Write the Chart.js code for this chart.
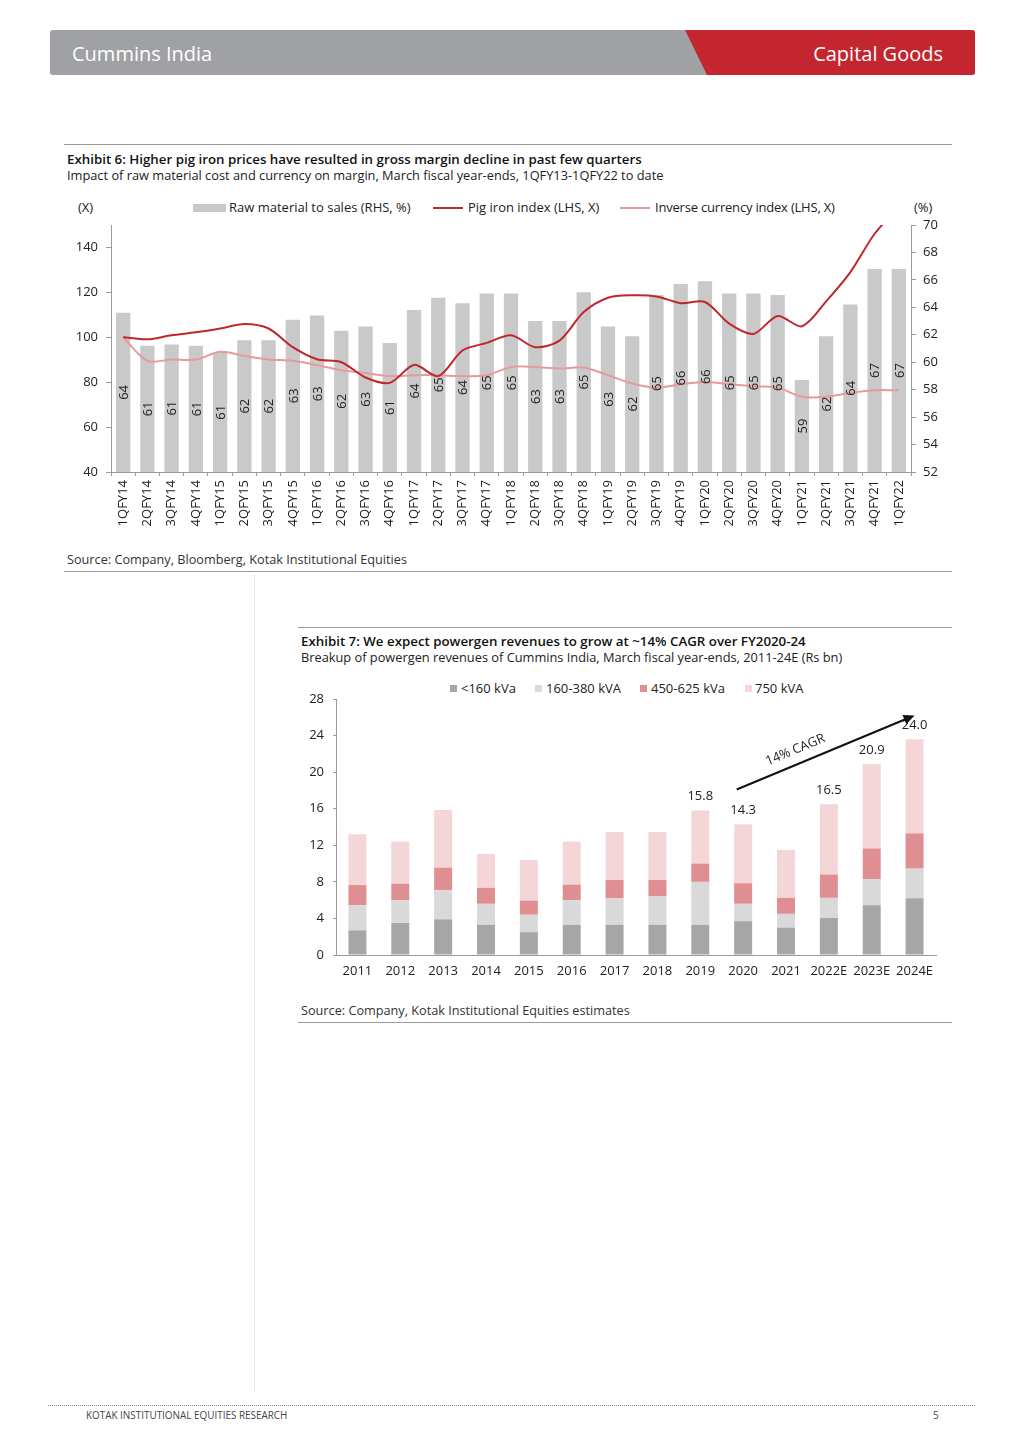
<!DOCTYPE html>
<html>
<head>
<meta charset="utf-8">
<script src="https://cdn.jsdelivr.net/npm/chart.js@4"></script>
<style>
  body { margin: 0; background: #fff; font-family: "Open Sans", sans-serif; color: #222; }
  #page { position: relative; width: 1024px; height: 1447px; overflow: hidden; }
  .abs { position: absolute; white-space: nowrap; }
  .txt { height: 20px; line-height: 20px; }
  .rule { position: absolute; height: 1px; background: #9a9a9a; }
  .title { font-weight: 600; font-size: 13.3px; color: #111; }
  .sub { font-size: 12.8px; color: #222; }
  .leg { font-size: 13px; color: #222; }
  .src { font-size: 12.7px; color: #333; }
  canvas { position: absolute; }
</style>
</head>
<body>
<div id="page">
  <!-- header -->
  <div class="abs" style="left:50px;top:30px;width:925px;height:45px;background:#a0a1a5;border-radius:3px;"></div>
  <div class="abs" style="left:685px;top:30px;width:290px;height:45px;background:#c3262f;border-radius:0 3px 3px 0;clip-path:polygon(0 0,100% 0,100% 100%,22px 100%);"></div>
  <div class="abs" style="left:72px;top:41px;height:26px;line-height:26px;font-size:20px;color:#fff;">Cummins India</div>
  <div class="abs" style="right:81px;top:41px;height:26px;line-height:26px;font-size:20px;color:#fff;">Capital Goods</div>

  <!-- exhibit 6 -->
  <div class="rule" style="left:64px;top:144px;width:888px;"></div>
  <div class="abs txt title" style="left:67px;top:149px;">Exhibit 6: Higher pig iron prices have resulted in gross margin decline in past few quarters</div>
  <div class="abs txt sub" style="left:67px;top:165px;">Impact of raw material cost and currency on margin, March fiscal year-ends, 1QFY13-1QFY22 to date</div>

  <div class="abs txt leg" style="left:78px;top:197px;">(X)</div>
  <div class="abs" style="left:193px;top:204px;width:33px;height:8px;background:#c9c9c9;"></div>
  <div class="abs txt leg" style="left:229px;top:197px;">Raw material to sales (RHS, %)</div>
  <div class="abs" style="left:433px;top:207px;width:30px;height:2px;background:#c0272d;"></div>
  <div class="abs txt leg" style="left:468px;top:197px;">Pig iron index (LHS, X)</div>
  <div class="abs" style="left:620px;top:207px;width:30px;height:2px;background:#e79a9c;"></div>
  <div class="abs txt leg" style="left:655px;top:197px;letter-spacing:-0.2px;">Inverse currency index (LHS, X)</div>
  <div class="abs txt leg" style="left:914px;top:197px;">(%)</div>

  <canvas id="chart1" width="900" height="320" style="left:60px;top:215px;"></canvas>

  <div class="abs txt src" style="left:67px;top:549px;">Source: Company, Bloomberg, Kotak Institutional Equities</div>
  <div class="rule" style="left:64px;top:571px;width:888px;"></div>

  <div class="abs" style="left:254px;top:575px;width:0;height:817px;border-left:1px dotted #d8d8d8;"></div>

  <!-- exhibit 7 -->
  <div class="rule" style="left:298px;top:627px;width:654px;"></div>
  <div class="abs txt title" style="left:301px;top:631px;">Exhibit 7: We expect powergen revenues to grow at ~14% CAGR over FY2020-24</div>
  <div class="abs txt sub" style="left:301px;top:647px;">Breakup of powergen revenues of Cummins India, March fiscal year-ends, 2011-24E (Rs bn)</div>

  <div class="abs" style="left:450px;top:685px;width:7px;height:7px;background:#a6a6a6;"></div>
  <div class="abs txt leg" style="left:461px;top:678px;">&lt;160 kVa</div>
  <div class="abs" style="left:535px;top:685px;width:7px;height:7px;background:#d9d9d9;"></div>
  <div class="abs txt leg" style="left:546px;top:678px;">160-380 kVA</div>
  <div class="abs" style="left:640px;top:685px;width:7px;height:7px;background:#df8f91;"></div>
  <div class="abs txt leg" style="left:651px;top:678px;">450-625 kVa</div>
  <div class="abs" style="left:745px;top:685px;width:7px;height:7px;background:#f4d6d8;"></div>
  <div class="abs txt leg" style="left:755px;top:678px;">750 kVA</div>

  <canvas id="chart2" width="660" height="300" style="left:296px;top:690px;"></canvas>

  <div class="abs txt src" style="left:301px;top:1000px;">Source: Company, Kotak Institutional Equities estimates</div>
  <div class="rule" style="left:298px;top:1022px;width:654px;"></div>

  <!-- footer -->
  <div class="abs" style="left:48px;top:1405px;width:927px;height:0;border-top:1px dotted #888;"></div>
  <div class="abs" style="left:86px;top:1408px;height:14px;line-height:14px;font-size:11px;color:#444;transform:scaleX(0.9);transform-origin:left;">KOTAK INSTITUTIONAL EQUITIES RESEARCH</div>
  <div class="abs" style="left:933px;top:1408px;height:14px;line-height:14px;font-size:10px;color:#444;">5</div>
</div>

<script>
const FONT = "'Open Sans', sans-serif";

// Exhibit 6
const quarters = [
  "1QFY14", "2QFY14", "3QFY14", "4QFY14", "1QFY15", "2QFY15", "3QFY15", "4QFY15",
  "1QFY16", "2QFY16", "3QFY16", "4QFY16", "1QFY17", "2QFY17", "3QFY17", "4QFY17",
  "1QFY18", "2QFY18", "3QFY18", "4QFY18", "1QFY19", "2QFY19", "3QFY19", "4QFY19",
  "1QFY20", "2QFY20", "3QFY20", "4QFY20", "1QFY21", "2QFY21", "3QFY21", "4QFY21", "1QFY22",
];
const rawMaterialToSales = [
  63.6, 61.2, 61.3, 61.2, 60.7, 61.6, 61.6, 63.1, 63.4, 62.3, 62.6, 61.4, 63.8, 64.7, 64.3, 65.0,
  65.0, 63.0, 63.0, 65.1, 62.6, 61.9, 64.9, 65.7, 65.9, 65.0, 65.0, 64.9, 58.7, 61.9, 64.2, 66.8, 66.8,
];
const pigIronIndex = [
  100, 99.1, 100.9, 102.2, 103.9, 105.9, 103.9, 95.6, 90.2, 88.9, 82.1, 79.7, 87.7, 82.7, 94.1, 97.5,
  100.9, 95.6, 98.5, 111.2, 117.6, 118.7, 118.2, 115.2, 115.7, 106.1, 101.5, 109.5, 104.9, 116, 129, 146.1, 158,
];
const inverseCurrencyIndex = [
  100, 89.5, 90.1, 90.1, 93.5, 91.7, 90.1, 89.5, 87.6, 85.3, 84.1, 82.7, 83.1, 83.1, 82.7, 83.1,
  86.8, 86.8, 86.1, 86.5, 83.1, 79.4, 77.6, 79.1, 80.1, 79.1, 78.2, 77.6, 73.5, 73.5, 75.2, 76.4, 76.4,
];
const lhsTicks = [40, 60, 80, 100, 120, 140];

// Exhibit 7
const years = ["2011", "2012", "2013", "2014", "2015", "2016", "2017", "2018", "2019", "2020", "2021", "2022E", "2023E", "2024E"];
const below160 = [2.7, 3.5, 3.9, 3.3, 2.5, 3.3, 3.3, 3.3, 3.3, 3.7, 3.0, 4.05, 5.45, 6.2];
const kva160to380 = [2.75, 2.5, 3.2, 2.3, 1.9, 2.7, 2.9, 3.1, 4.7, 1.9, 1.5, 2.2, 2.85, 3.25];
const kva450to625 = [2.2, 1.8, 2.45, 1.75, 1.55, 1.7, 2.0, 1.8, 2.0, 2.25, 1.75, 2.55, 3.35, 3.85];
const kva750 = [5.55, 4.6, 6.3, 3.7, 4.45, 4.7, 5.25, 5.25, 5.8, 6.45, 5.25, 7.7, 9.25, 10.3];
const totalLabels = ["", "", "", "", "", "", "", "", "15.8", "14.3", "", "16.5", "20.9", "24.0"];
const cagrText = "14% CAGR";

const axisColor = "#9a9a9a";

// no extra room above/below the vertical axes, chart area set by layout padding
const noPad = (axis) => {
  axis.paddingTop = 0;
  axis.paddingBottom = 0;
};

const barValueLabels = {
  id: "barValueLabels",
  afterDatasetsDraw(chart) {
    const ctx = chart.ctx;
    chart.data.datasets.forEach((ds, i) => {
      const meta = chart.getDatasetMeta(i);
      if (meta.type !== "bar") return;
      const base = chart.scales.y1.bottom;
      meta.data.forEach((bar, j) => {
        ctx.save();
        ctx.translate(bar.x, (bar.y + base) / 2);
        ctx.rotate(-Math.PI / 2);
        ctx.font = `13px ${FONT}`;
        ctx.fillStyle = "#222";
        ctx.textAlign = "center";
        ctx.textBaseline = "middle";
        ctx.fillText(String(Math.round(ds.data[j])), 0, 1);
        ctx.restore();
      });
    });
  },
};

new Chart(document.getElementById("chart1"), {
  type: "bar",
  data: {
    labels: quarters,
    datasets: [
      {
        type: "line",
        label: "Pig iron index (LHS, X)",
        data: pigIronIndex,
        yAxisID: "y",
        borderColor: "#c0272d",
        borderWidth: 2,
        pointRadius: 0,
        tension: 0.3,
        order: 0,
      },
      {
        type: "line",
        label: "Inverse currency index (LHS, X)",
        data: inverseCurrencyIndex,
        yAxisID: "y",
        borderColor: "#e79a9c",
        borderWidth: 2,
        pointRadius: 0,
        tension: 0.3,
        order: 1,
      },
      {
        type: "bar",
        label: "Raw material to sales (RHS, %)",
        data: rawMaterialToSales,
        yAxisID: "y1",
        backgroundColor: "#c9c9c9",
        barPercentage: 0.59,
        categoryPercentage: 1,
        order: 2,
      },
    ],
  },
  options: {
    responsive: false,
    animation: false,
    layout: { padding: { top: 10 } },
    plugins: { legend: { display: false }, tooltip: { enabled: false } },
    scales: {
      x: {
        grid: { drawOnChartArea: false, tickLength: 4, color: axisColor },
        border: { color: axisColor, dash: [1, 2] },
        ticks: { minRotation: 90, maxRotation: 90, autoSkip: false, padding: 4, color: "#222", font: { family: FONT, size: 13 } },
        afterFit: (axis) => { axis.height = 63; },
      },
      y: {
        position: "left",
        min: 40,
        max: 150,
        grid: { drawOnChartArea: false, tickLength: 5, color: axisColor },
        border: { color: axisColor, dash: [1, 2] },
        ticks: { stepSize: 20, padding: 8, color: "#222", font: { family: FONT, size: 13 } },
        afterBuildTicks: (axis) => { axis.ticks = lhsTicks.map((value) => ({ value })); },
        afterFit: (axis) => { axis.width = 51; noPad(axis); },
      },
      y1: {
        position: "right",
        min: 52,
        max: 70,
        grid: { drawOnChartArea: false, tickLength: 5, color: axisColor },
        border: { color: axisColor, dash: [1, 2] },
        ticks: { stepSize: 2, padding: 7, color: "#222", font: { family: FONT, size: 13 } },
        afterFit: (axis) => { axis.width = 49; noPad(axis); },
      },
    },
  },
  plugins: [barValueLabels],
});

const stackTotals = {
  id: "stackTotals",
  afterDatasetsDraw(chart) {
    const ctx = chart.ctx;
    const x = chart.scales.x;
    const y = chart.scales.y;
    ctx.save();
    ctx.font = `13px ${FONT}`;
    ctx.fillStyle = "#222";
    ctx.textAlign = "center";
    ctx.textBaseline = "middle";
    years.forEach((yr, i) => {
      if (!totalLabels[i]) return;
      const total = below160[i] + kva160to380[i] + kva450to625[i] + kva750[i];
      ctx.fillText(totalLabels[i], x.getPixelForValue(i), y.getPixelForValue(total) - 14);
    });

    // CAGR arrow from FY20 to FY24E
    const x0 = x.getPixelForValue(8.85), y0 = y.getPixelForValue(18.1);
    const x1 = x.getPixelForValue(13), y1 = y.getPixelForValue(26.2);
    const ang = Math.atan2(y1 - y0, x1 - x0);
    ctx.strokeStyle = "#111";
    ctx.fillStyle = "#111";
    ctx.lineWidth = 2;
    ctx.beginPath();
    ctx.moveTo(x0, y0);
    ctx.lineTo(x1 - 8 * Math.cos(ang), y1 - 8 * Math.sin(ang));
    ctx.stroke();
    ctx.beginPath();
    ctx.moveTo(x1, y1);
    ctx.lineTo(x1 - 11 * Math.cos(ang) + 5 * Math.sin(ang), y1 - 11 * Math.sin(ang) - 5 * Math.cos(ang));
    ctx.lineTo(x1 - 11 * Math.cos(ang) - 5 * Math.sin(ang), y1 - 11 * Math.sin(ang) + 5 * Math.cos(ang));
    ctx.closePath();
    ctx.fill();

    const t = 0.36;
    const tx = x0 + t * (x1 - x0) + 14 * Math.sin(ang);
    const ty = y0 + t * (y1 - y0) - 14 * Math.cos(ang);
    ctx.translate(tx, ty);
    ctx.rotate(ang);
    ctx.fillStyle = "#222";
    ctx.fillText(cagrText, 0, 0);
    ctx.restore();
  },
};

const stackBar = (label, data, color) => ({
  label,
  data,
  backgroundColor: color,
  barPercentage: 0.42,
  categoryPercentage: 1,
});

new Chart(document.getElementById("chart2"), {
  type: "bar",
  data: {
    labels: years,
    datasets: [
      stackBar("<160 kVa", below160, "#a6a6a6"),
      stackBar("160-380 kVA", kva160to380, "#d9d9d9"),
      stackBar("450-625 kVa", kva450to625, "#df8f91"),
      stackBar("750 kVA", kva750, "#f4d6d8"),
    ],
  },
  options: {
    responsive: false,
    animation: false,
    layout: { padding: { top: 9, right: 20 } },
    plugins: { legend: { display: false }, tooltip: { enabled: false } },
    scales: {
      x: {
        stacked: true,
        grid: { drawOnChartArea: false, drawTicks: false, color: axisColor },
        border: { color: axisColor, dash: [1, 2] },
        ticks: { minRotation: 0, maxRotation: 0, autoSkip: false, padding: 8, color: "#222", font: { family: FONT, size: 13 } },
        afterFit: (axis) => { axis.height = 35; axis.paddingLeft = 0; axis.paddingRight = 0; },
      },
      y: {
        stacked: true,
        min: 0,
        max: 28,
        grid: { drawOnChartArea: false, tickLength: 3, color: axisColor },
        border: { color: axisColor, dash: [1, 2] },
        ticks: { stepSize: 4, padding: 9, color: "#222", font: { family: FONT, size: 13 } },
        afterFit: (axis) => { axis.width = 40; noPad(axis); },
      },
    },
  },
  plugins: [stackTotals],
});
</script>
</body>
</html>
